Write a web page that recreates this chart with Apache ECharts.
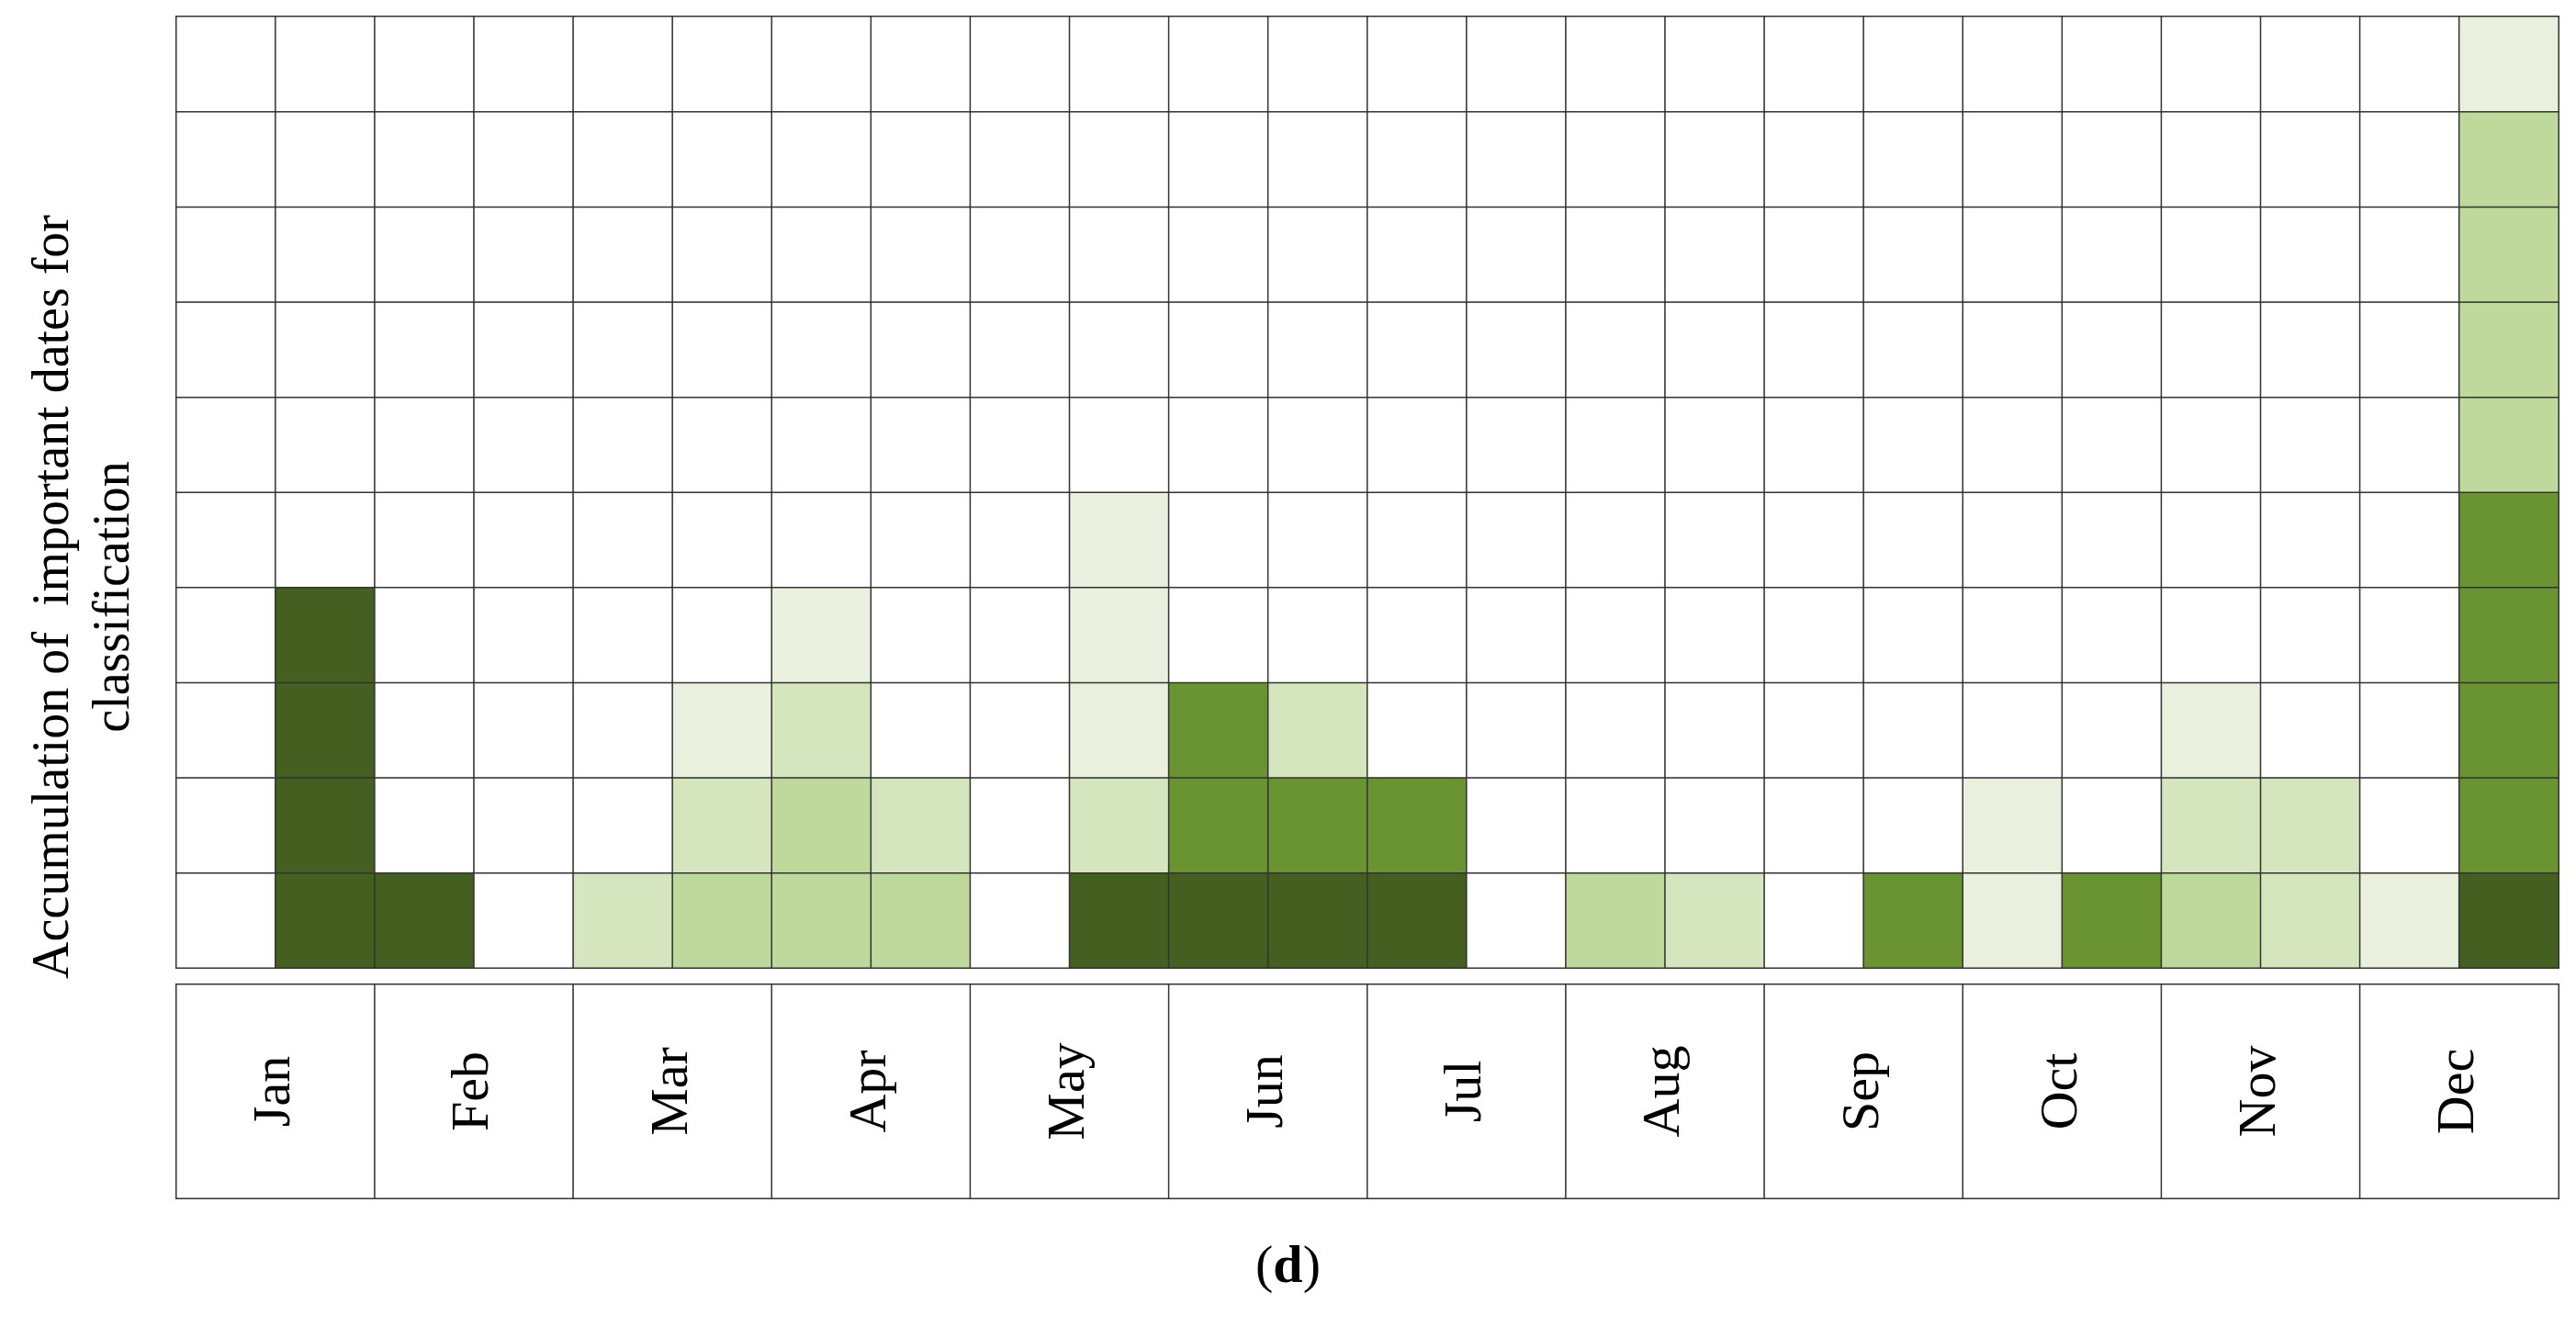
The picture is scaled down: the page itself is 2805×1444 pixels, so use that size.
<!DOCTYPE html>
<html>
<head>
<meta charset="utf-8">
<script src="https://cdn.jsdelivr.net/npm/echarts@6/dist/echarts.min.js"></script>
<style>html,body{margin:0;padding:0;background:#fff}#c{width:2805px;height:1444px}</style>
</head>
<body>
<div id="c"></div>
<script>
// Half-month columns and month boxes
const halfMonths = Array.from({ length: 24 }, (_, i) => String(i));
const rows = ['1', '2', '3', '4', '5', '6', '7', '8', '9', '10'];
const months = ['Jan', 'Feb', 'Mar', 'Apr', 'May', 'Jun', 'Jul', 'Aug', 'Sep', 'Oct', 'Nov', 'Dec'];

// Shade level per cell, bottom to top, for each half-month column
// 5 = dark, 4 = medium, 3 = light, 2 = lighter, 1 = lightest
const columnLevels = [
    [],
    [5, 5, 5, 5],
    [5],
    [],
    [2],
    [3, 2, 1],
    [3, 3, 2, 1],
    [3, 2],
    [],
    [5, 2, 1, 1, 1],
    [5, 4, 4],
    [5, 4, 2],
    [5, 4],
    [],
    [3],
    [2],
    [],
    [4],
    [1, 1],
    [4],
    [3, 2, 1],
    [2, 2],
    [1],
    [5, 4, 4, 4, 4, 3, 3, 3, 3, 1]
];
const levelColors = ['#ffffff', '#e9f0dd', '#d5e5bd', '#bfd89b', '#6a9432', '#445f1f'];

const chart = echarts.init(document.getElementById('c'));

const cells = [];
halfMonths.forEach((_, x) => {
    rows.forEach((_, y) => {
        cells.push([x, y, columnLevels[x][y] || 0]);
    });
});

const serif = 'Liberation Serif';

chart.setOption({
    backgroundColor: '#fff',
    animation: false,
    grid: [
        { left: 192, right: 19, top: 18, height: 1036 },
        { left: 192, right: 19, top: 1072, height: 233 }
    ],
    xAxis: [
        { type: 'category', data: halfMonths, show: false },
        { type: 'category', data: months, gridIndex: 1, show: false }
    ],
    yAxis: [
        { type: 'category', data: rows, show: false },
        { type: 'category', data: ['m'], gridIndex: 1, show: false }
    ],
    visualMap: {
        show: false,
        type: 'piecewise',
        seriesIndex: 0,
        dimension: 2,
        pieces: levelColors.map((c, i) => ({ value: i, color: c }))
    },
    series: [
        {
            type: 'heatmap',
            data: cells,
            itemStyle: { borderColor: '#333', borderWidth: 1.5 },
            emphasis: { disabled: true }
        },
        {
            type: 'heatmap',
            xAxisIndex: 1,
            yAxisIndex: 1,
            data: months.map((m, i) => ({ value: [i, 0, 0], name: m, itemStyle: { color: '#fff' } })),
            itemStyle: { borderColor: '#333', borderWidth: 1.5, color: '#fff' },
            label: {
                show: true,
                rotate: 90,
                formatter: p => months[p.value[0]],
                fontFamily: serif,
                fontSize: 58,
                color: '#000'
            },
            emphasis: { disabled: true }
        }
    ],
    graphic: [
        {
            type: 'text',
            x: 92,
            y: 650,
            rotation: Math.PI / 2,
            style: {
                text: 'Accumulation of  important dates for\nclassification',
                font: '56px "Liberation Serif"',
                fill: '#000',
                align: 'center',
                verticalAlign: 'middle',
                lineHeight: 66
            }
        },
        {
            type: 'text',
            left: 'center',
            top: 1352,
            style: {
                text: '({b|d})',
                font: '58px "Liberation Serif"',
                fill: '#000',
                rich: { b: { fontFamily: serif, fontSize: 58, fontWeight: 'bold' } }
            }
        }
    ]
});
</script>
</body>
</html>
